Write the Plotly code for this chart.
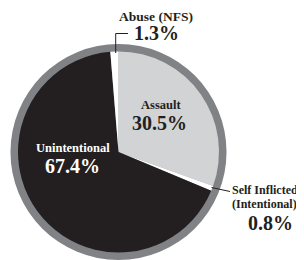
import plotly.graph_objects as go

# Data
categories = ["Assault", "Self Inflicted (Intentional)", "Unintentional", "Abuse (NFS)"]
values = [30.5, 0.8, 67.4, 1.3]
slice_colors = ["#d1d3d4", "#ffffff", "#231f20", "#ffffff"]

# The page body has a default 8px margin; compensate so the picture lines up with the window.
OFF = 8
W, H = 304 - OFF, 260 - OFF
SERIF = "Liberation Serif, Times New Roman, serif"
DARK = "#231f20"


def px(x):
    return (x - OFF) / W


def py(y):
    return 1 - (y - OFF) / H


CX, CY, R_OUT, R_IN = 118.5, 152.0, 108.0, 100.5

fig = go.Figure()

# outer grey ring (background disc)
fig.add_trace(go.Pie(
    values=[1], labels=["ring"], marker=dict(colors=["#808285"], line=dict(width=0)),
    textinfo="none", hoverinfo="skip", sort=False, showlegend=False,
    domain=dict(x=[px(CX - R_OUT), px(CX + R_OUT)], y=[max(0, py(CY + R_OUT)), py(CY - R_OUT)]),
))

# data pie
fig.add_trace(go.Pie(
    values=values, labels=categories,
    marker=dict(colors=slice_colors, line=dict(width=0)),
    textinfo="none", sort=False, direction="clockwise", rotation=0,
    showlegend=False,
    domain=dict(x=[px(CX - R_IN), px(CX + R_IN)], y=[py(CY + R_IN), py(CY - R_IN)]),
))


def pct(v):
    return f"{v:.1f}%"


def ann(text, x, y, size, color=DARK, anchor="center"):
    fig.add_annotation(text=f"<b>{text}</b>", x=px(x), y=py(y), xref="paper", yref="paper",
                       showarrow=False, xanchor=anchor, yanchor="middle",
                       font=dict(family=SERIF, size=size, color=color))


# Abuse
ann("Abuse (NFS)", 156, 16, 13.5)
ann(pct(values[3]), 156, 33.5, 20)
# Assault
ann(categories[0], 161, 105, 12.5)
ann(pct(values[0]), 159, 123.5, 20)
# Unintentional
ann(categories[2], 72.5, 148, 12.5, "#ffffff")
ann(pct(values[2]), 72.5, 166, 20, "#ffffff")
# Self inflicted
ann("Self Inflicted", 230, 190, 12, anchor="left")
ann("(Intentional)", 229.5, 204, 12, anchor="left")
ann(pct(values[1]), 270.5, 222.5, 20)

# leader lines
fig.add_shape(type="path", xref="paper", yref="paper",
              path=f"M {px(115.7)} {py(53)} L {px(115.7)} {py(33.5)} L {px(128)} {py(33.5)}",
              line=dict(color=DARK, width=1))
fig.add_shape(type="line", xref="paper", yref="paper",
              x0=px(211.5), y0=py(187.5), x1=px(230), y1=py(191.5),
              line=dict(color=DARK, width=1))

fig.update_layout(width=W, height=H, margin=dict(l=0, r=0, t=0, b=0),
                  paper_bgcolor="white", plot_bgcolor="white")
fig.write_html("out.html")
